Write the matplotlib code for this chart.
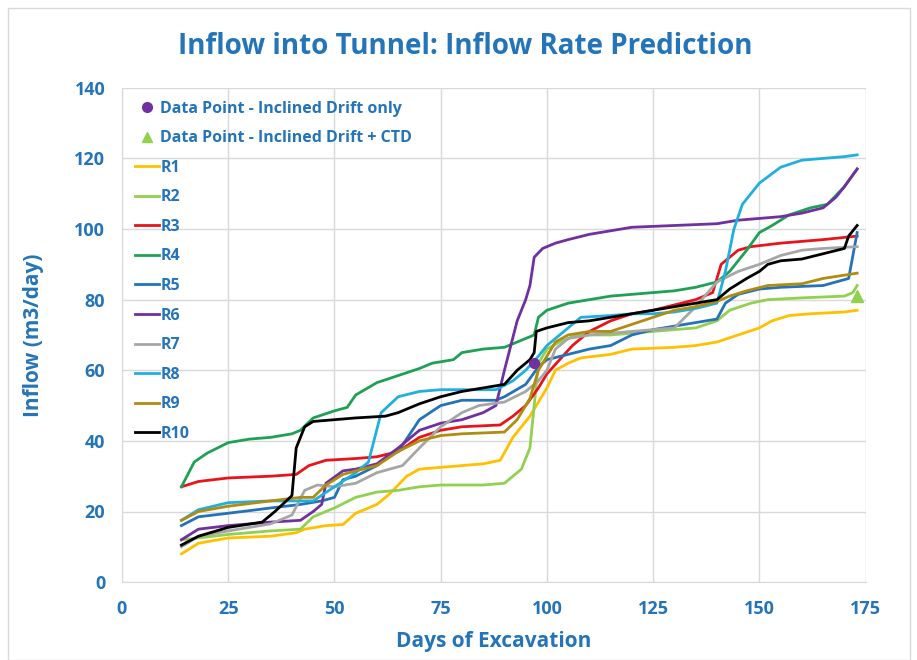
import matplotlib.pyplot as plt
from matplotlib.lines import Line2D
from matplotlib.patches import Rectangle

plt.rcParams['font.family'] = ['Open Sans', 'DejaVu Sans']

BLUE = '#2474b9'

# кривые притока, читаются с картинки (дни, м3/сут)
r1_x = [14, 18, 25, 35, 41, 43, 48, 52, 55, 60, 63, 67, 70, 75, 80, 85, 89, 92, 96, 98, 100, 102, 105, 108, 115, 120, 130, 135, 140, 145, 150, 153, 157, 162, 170, 173]
r1_y = [8, 11, 12.5, 13, 14, 15, 16, 16.3, 19.5, 22, 25, 30, 32, 32.5, 33, 33.5, 34.5, 41, 47, 51, 55, 60, 62, 63.5, 64.5, 66, 66.5, 67, 68, 70, 72, 74, 75.5, 76, 76.5, 77]

r2_x = [14, 18, 25, 35, 42, 45, 50, 55, 60, 65, 70, 75, 85, 90, 94, 96, 97, 98, 100, 103, 107, 115, 125, 135, 140, 143, 148, 152, 160, 170, 172, 173]
r2_y = [12, 12.5, 13.5, 14.5, 15, 18.5, 21, 24, 25.5, 26, 27, 27.5, 27.5, 28, 32, 38, 50, 62, 66, 68, 70, 70, 71, 72, 74, 77, 79, 80, 80.5, 81, 82, 84]

r3_x = [14, 18, 25, 35, 41, 44, 48, 55, 60, 65, 70, 75, 80, 89, 92, 95, 98, 100, 103, 106, 110, 115, 120, 125, 130, 135, 139, 141, 145, 148, 155, 165, 173]
r3_y = [27, 28.5, 29.5, 30, 30.5, 33, 34.5, 35, 35.5, 37, 41, 43, 44, 44.5, 47, 50, 55, 59, 63, 67, 71, 74, 76, 77, 78.5, 80, 82, 90, 94, 95, 96, 97, 98]

r4_x = [14, 17, 20, 25, 30, 35, 40, 42, 45, 50, 53, 55, 60, 65, 70, 73, 78, 80, 85, 90, 95, 97, 98, 100, 105, 110, 115, 120, 130, 135, 140, 143, 147, 150, 153, 157, 162, 166, 170, 173]
r4_y = [27, 34, 36.5, 39.5, 40.5, 41, 42, 43, 46.5, 48.5, 49.5, 53, 56.5, 58.5, 60.5, 62, 63, 65, 66, 66.5, 69, 70, 75, 77, 79, 80, 81, 81.5, 82.5, 83.5, 85, 88, 94, 99, 101, 104, 106, 107, 112, 117]

r5_x = [14, 18, 25, 35, 42, 47, 50, 52, 55, 60, 63, 65, 70, 75, 80, 88, 90, 95, 98, 100, 105, 110, 115, 120, 125, 130, 135, 140, 142, 145, 150, 155, 165, 171, 173]
r5_y = [16, 18.5, 19.5, 21, 22, 23, 24, 29, 30, 33, 36, 37, 46, 50, 51.5, 51.5, 52.5, 56, 61, 63, 64.5, 66, 67, 70, 71.5, 72.5, 73.5, 74.5, 79, 81.5, 83, 83.5, 84, 86, 99]

r6_x = [14, 18, 25, 35, 42, 45, 47, 48, 52, 55, 60, 65, 70, 75, 80, 85, 88, 90, 93, 95, 96, 97, 99, 102, 105, 110, 115, 120, 130, 140, 145, 150, 155, 160, 165, 168, 170, 173]
r6_y = [12, 15, 16, 17, 17.5, 20, 22, 28, 31.5, 32, 33.5, 38, 43, 45, 46, 48, 50, 60, 74, 80, 84, 92, 94.5, 96, 97, 98.5, 99.5, 100.5, 101, 101.5, 102.5, 103, 103.5, 104.5, 106, 109, 112, 117]

r7_x = [14, 18, 25, 35, 40, 43, 46, 50, 55, 60, 63, 66, 70, 75, 80, 84, 90, 95, 98, 100, 102, 105, 110, 115, 120, 130, 135, 140, 145, 150, 155, 160, 165, 173]
r7_y = [10, 13, 14.5, 16.5, 19, 26, 27.5, 27, 28, 31, 32, 33, 38, 44, 48, 50, 51, 54, 57, 60, 66, 69, 70, 70.5, 71, 72, 78, 85, 88, 90, 92.5, 94, 94.5, 95]

r8_x = [14, 18, 25, 35, 45, 50, 55, 58, 61, 65, 70, 75, 88, 92, 95, 98, 100, 105, 108, 115, 120, 125, 130, 135, 140, 142, 144, 146, 150, 155, 160, 165, 170, 173]
r8_y = [17.5, 20.5, 22.5, 23, 23, 27, 31, 34, 48, 52.5, 54, 54.5, 54.5, 57, 60, 64, 67, 72, 75, 75.5, 76, 76, 76.5, 77.5, 79, 88, 100, 107, 113, 117.5, 119.5, 120, 120.5, 121]

r9_x = [14, 18, 25, 35, 42, 45, 48, 52, 55, 60, 65, 70, 75, 80, 90, 93, 96, 98, 100, 102, 105, 110, 115, 120, 125, 130, 135, 140, 143, 147, 152, 160, 165, 173]
r9_y = [17.5, 20, 21.5, 23, 24, 24, 27.5, 30.5, 31.5, 33, 37, 40, 41.5, 42, 42.5, 46, 52, 60, 64, 68, 70, 71, 71, 73, 75, 77, 78, 79.5, 81, 82.5, 84, 84.5, 86, 87.5]

r10_x = [14, 18, 25, 33, 36, 40, 41, 43, 45, 50, 55, 62, 65, 70, 75, 80, 85, 90, 93, 96, 97, 97.5, 100, 105, 110, 115, 120, 125, 130, 135, 140, 143, 147, 150, 152, 155, 160, 165, 170, 171, 173]
r10_y = [10.5, 13, 15.5, 17, 20, 24.5, 38, 44, 45.5, 46, 46.5, 47, 48, 50.5, 52.5, 54, 55, 56, 60, 63, 65, 71, 72, 73.5, 74, 75, 76, 77, 78, 79, 80, 83, 86, 88, 90, 91, 91.5, 93, 94.5, 98, 101]

# замеры
drift_x, drift_y = [97], [62]
ctd_x, ctd_y = [173], [81]

names = ['R1', 'R2', 'R3', 'R4', 'R5', 'R6', 'R7', 'R8', 'R9', 'R10']
colors = ['#ffc000', '#92d050', '#e8141c', '#1fa055', '#2472b8', '#7030a0', '#a6a6a6', '#1fb0e0', '#b08c10', '#000000']
series = [(r1_x, r1_y), (r2_x, r2_y), (r3_x, r3_y), (r4_x, r4_y), (r5_x, r5_y),
          (r6_x, r6_y), (r7_x, r7_y), (r8_x, r8_y), (r9_x, r9_y), (r10_x, r10_y)]

fig = plt.figure(figsize=(9.17, 6.6), dpi=100)
ax = fig.add_axes([0.133, 0.118, 0.811, 0.749])

# рамка вокруг всей диаграммы
fig.patches.append(Rectangle((0.009, 0.0), 0.983, 0.988, transform=fig.transFigure,
                             fill=False, edgecolor='#d9d9d9', linewidth=1))

for name, (x, y), c in zip(names, series, colors):
    ax.plot(x, y, color=c, linewidth=2, label=name)

ax.plot(drift_x, drift_y, 'o', color='#7030a0', markersize=7, zorder=5)
ax.plot(ctd_x, ctd_y, '^', color='#92d050', markersize=9, zorder=5)

ax.set_xlim(0, 175)
ax.set_ylim(0, 140)
ax.set_xticks(range(0, 176, 25))
ax.set_yticks(range(0, 141, 20))
ax.grid(True, color='#d9d9d9', linewidth=1)
ax.set_axisbelow(True)
for s in ['top', 'right']:
    ax.spines[s].set_visible(False)
for s in ['left', 'bottom']:
    ax.spines[s].set_color('#d9d9d9')
ax.tick_params(length=0, labelsize=13, labelcolor=BLUE)
ax.tick_params(axis='y', pad=12)
ax.tick_params(axis='x', pad=13)
for lbl in ax.get_xticklabels() + ax.get_yticklabels():
    lbl.set_fontweight('bold')

ax.set_xlabel('Days of Excavation', fontsize=15, fontweight='bold', color=BLUE, labelpad=9)
ax.set_ylabel('Inflow (m3/day)', fontsize=15, fontweight='bold', color=BLUE, labelpad=22)
fig.text(0.507, 0.93, 'Inflow into Tunnel: Inflow Rate Prediction', fontsize=20, fontweight='bold',
         color=BLUE, ha='center', va='center')

handles = [Line2D([], [], marker='o', color='#7030a0', linestyle='none', markersize=7),
           Line2D([], [], marker='^', color='#92d050', linestyle='none', markersize=7)]
handles += [Line2D([], [], color=c, linewidth=2) for c in colors]
labels = ['Data Point - Inclined Drift only', 'Data Point - Inclined Drift + CTD'] + names
leg = ax.legend(handles, labels, loc='upper left', bbox_to_anchor=(0.0, 1.0), frameon=False,
                handlelength=1.5, handletextpad=0.1, labelspacing=0.85, fontsize=11.5,
                borderaxespad=0.4)
for t in leg.get_texts():
    t.set_color(BLUE)
    t.set_fontweight('bold')

plt.savefig('out.png', dpi=100)
